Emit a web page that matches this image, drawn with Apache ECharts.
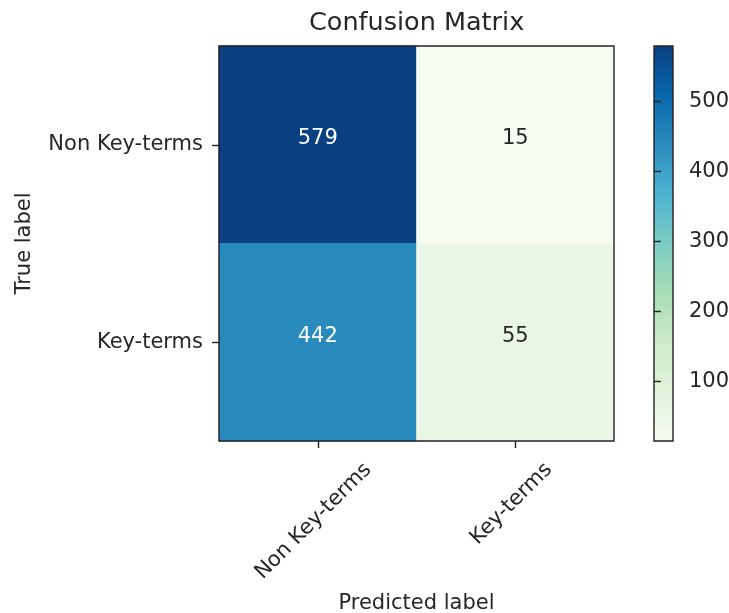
<!DOCTYPE html>
<html>
<head>
<meta charset="utf-8">
<script src="https://cdn.jsdelivr.net/npm/echarts@6/dist/echarts.min.js"></script>
<style>
  html, body { margin: 0; padding: 0; background: #fff; }
  #chart { width: 729px; height: 613px; }
</style>
</head>
<body>
<div id="chart"></div>
<script>
// Class names on each axis
const trueLabels = ['Non Key-terms', 'Key-terms'];
const predictedLabels = ['Non Key-terms', 'Key-terms'];
// Counts: rows = true label, columns = predicted label
const counts = [
  [579, 15],
  [442, 55]
];
// Colour bar tick values
const colorbarTicks = [100, 200, 300, 400, 500];
// GnBu colour ramp
const gnbu = ['#f7fcf0', '#e0f3db', '#ccebc5', '#a8ddb5', '#7bccc4', '#4eb3d3', '#2b8cbe', '#0868ac', '#084081'];

const FONT = 'DejaVu Sans';
const INK = '#262626';
const FS = 21;

const flat = counts.flat();
const vMin = Math.min(...flat);
const vMax = Math.max(...flat);
const threshold = vMax / 2;

const cells = [];
counts.forEach((row, i) => {
  row.forEach((v, j) => {
    cells.push({
      value: [j, i, v],
      label: { color: v > threshold ? '#ffffff' : INK }
    });
  });
});

// Rotated tick labels are centred under their tick: right padding slides a
// label along its baseline, an empty leading line drops it away from the axis.
const xLabelShift = [{ along: 36, drop: 24 }, { along: 11, drop: 0 }];
const xCategories = predictedLabels.map((name, k) => ({
  value: name,
  textStyle: { align: 'center', verticalAlign: 'middle', padding: [0, xLabelShift[k].along, 0, 0] }
}));

const plot = { left: 219, top: 46, width: 395, height: 395 };
const bar = { left: 654, top: 46, width: 19, height: 395 };
const frame = { show: true, z: 5, backgroundColor: 'transparent', borderColor: '#222', borderWidth: 1.4, outerBoundsMode: 'none', containLabel: false };

const chart = echarts.init(document.getElementById('chart'), null, { renderer: 'canvas' });
chart.setOption({
  animation: false,
  backgroundColor: '#ffffff',
  textStyle: { fontFamily: FONT },
  title: {
    text: 'Confusion Matrix',
    left: 309,
    top: 10,
    padding: 0,
    textStyle: { fontFamily: FONT, fontSize: 25.5, fontWeight: 'normal', color: INK }
  },
  grid: [
    Object.assign({}, frame, plot),
    Object.assign({}, frame, bar)
  ],
  xAxis: [
    {
      type: 'category',
      gridIndex: 0,
      data: xCategories,
      position: 'bottom',
      z: 6,
      name: 'Predicted label',
      nameLocation: 'middle',
      nameGap: 152,
      nameMoveOverlap: false,
      nameTextStyle: { fontFamily: FONT, fontSize: FS, color: INK },
      axisLine: { show: false },
      axisTick: { show: true, alignWithLabel: true, length: 7, lineStyle: { color: '#222', width: 1.4 } },
      axisLabel: {
        rotate: 45,
        align: 'center',
        verticalAlign: 'middle',
        margin: 59,
        fontFamily: FONT,
        fontSize: FS,
        color: INK,
        formatter: (value, index) => {
          const drop = xLabelShift[index].drop;
          return drop > 0 ? '{gap| }\n{txt|' + value + '}' : '{txt|' + value + '}';
        },
        rich: {
          gap: { height: 24, lineHeight: 24, fontSize: 4 },
          txt: { fontFamily: FONT, fontSize: FS, color: INK, lineHeight: 24 }
        }
      },
      splitLine: { show: false }
    },
    {
      type: 'value',
      gridIndex: 1,
      show: false,
      min: 0,
      max: 1
    }
  ],
  yAxis: [
    {
      type: 'category',
      gridIndex: 0,
      data: trueLabels,
      inverse: true,
      z: 6,
      name: 'True label',
      nameLocation: 'middle',
      nameGap: 184,
      nameMoveOverlap: false,
      nameTextStyle: { fontFamily: FONT, fontSize: FS, color: INK },
      axisLine: { show: false },
      axisTick: { show: true, alignWithLabel: true, length: 7, lineStyle: { color: '#222', width: 1.4 } },
      axisLabel: { margin: 16, fontFamily: FONT, fontSize: FS, color: INK },
      splitLine: { show: false }
    },
    {
      type: 'value',
      gridIndex: 1,
      position: 'right',
      min: vMin,
      max: vMax,
      z: 6,
      axisLine: { show: false },
      axisTick: { show: true, length: 7, customValues: colorbarTicks, lineStyle: { color: '#222', width: 1.4 } },
      axisLabel: { margin: 16, customValues: colorbarTicks, fontFamily: FONT, fontSize: FS, color: INK },
      splitLine: { show: false }
    }
  ],
  visualMap: {
    type: 'continuous',
    seriesIndex: 0,
    min: vMin,
    max: vMax,
    orient: 'vertical',
    left: bar.left,
    top: bar.top,
    itemWidth: bar.width,
    itemHeight: bar.height,
    padding: 0,
    calculable: false,
    hoverLink: false,
    realtime: false,
    inRange: { color: gnbu }
  },
  series: [
    {
      type: 'heatmap',
      xAxisIndex: 0,
      yAxisIndex: 0,
      data: cells,
      label: {
        show: true,
        fontFamily: FONT,
        fontSize: FS,
        offset: [0, -6],
        formatter: p => String(p.value[2])
      },
      itemStyle: { borderWidth: 0 },
      emphasis: { disabled: true }
    }
  ]
});
</script>
</body>
</html>
